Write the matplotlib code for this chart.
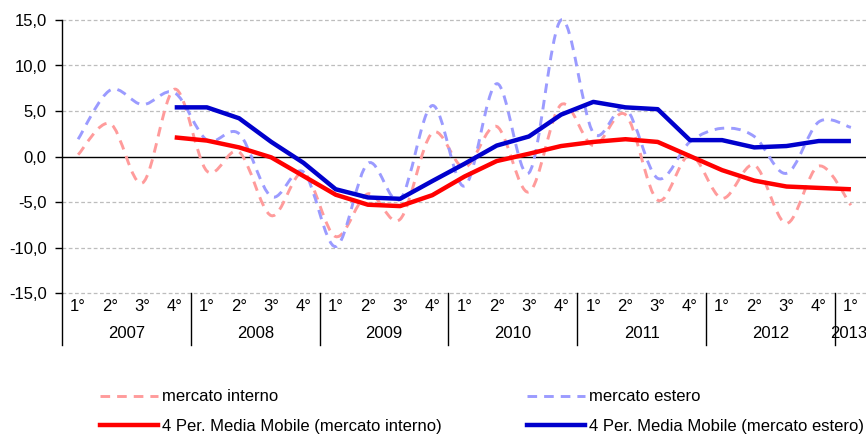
import numpy as np
import matplotlib
matplotlib.use("Agg")
import matplotlib.pyplot as plt
from matplotlib.path import Path
from matplotlib.patches import PathPatch
from matplotlib.lines import Line2D
from matplotlib.transforms import blended_transform_factory

plt.rcParams['font.family'] = ['Liberation Sans', 'DejaVu Sans']

# dati trimestrali 2007 1° - 2013 1°
anni = ['2007', '2008', '2009', '2010', '2011', '2012', '2013']
trimestri = ['1°', '2°', '3°', '4°'] * 6 + ['1°']

mercato_interno = [0.2, 3.6, -2.9, 7.4, -1.6, 0.5, -6.5, -1.8, -8.8, -4.1, -6.9, 2.6,
                   -1.2, 3.3, -3.9, 5.7, 1.2, 4.6, -4.8, 0.15, -4.6, -0.95, -7.35, -1.05, -5.35]
mercato_estero = [1.9, 7.3, 5.7, 7.0, 1.8, 2.5, -4.4, -1.7, -9.9, -0.75, -4.7, 5.6,
                  -3.25, 8.0, -1.8, 15.0, 2.6, 5.3, -2.4, 1.6, 3.1, 2.2, -1.85, 3.8, 3.2]
mm_interno = [np.nan, np.nan, np.nan, 2.1, 1.75, 1.0, -0.1, -2.15, -4.2, -5.3, -5.45, -4.25,
              -2.2, -0.5, 0.3, 1.15, 1.6, 1.9, 1.6, 0.05, -1.5, -2.65, -3.3, -3.45, -3.6]
mm_estero = [np.nan, np.nan, np.nan, 5.4, 5.4, 4.2, 1.6, -0.7, -3.6, -4.5, -4.65, -2.7,
             -0.8, 1.2, 2.2, 4.6, 6.0, 5.4, 5.2, 1.8, 1.8, 1.0, 1.15, 1.7, 1.7]

ROSA = '#FF9B9B'
AZZURRO = '#9B9BFF'
ROSSO = '#FF0000'
BLU = '#0000CC'


def curva_smussata(xs, ys):
    # linea smussata come in Excel (bezier tipo Catmull-Rom)
    pts = np.column_stack([xs, ys]).astype(float)
    n = len(pts)
    verts = [pts[0]]
    codes = [Path.MOVETO]
    for i in range(n - 1):
        p0 = pts[i - 1] if i > 0 else pts[i]
        p1 = pts[i]
        p2 = pts[i + 1]
        p3 = pts[i + 2] if i + 2 < n else pts[i + 1]
        verts += [p1 + (p2 - p0) / 6, p2 - (p3 - p1) / 6, p2]
        codes += [Path.CURVE4] * 3
    return Path(verts, codes)


fig = plt.figure(figsize=(8.66, 4.36), dpi=100)
ax = fig.add_axes([62 / 866, 1 - 293 / 436, 805 / 866, 273 / 436])

x = np.arange(len(trimestri))
tratteggio = (0, (3.3, 2.4))

ax.add_patch(PathPatch(curva_smussata(x, mercato_interno), fill=False, edgecolor=ROSA,
                       lw=2.1, linestyle=tratteggio, capstyle='butt', clip_on=False, zorder=3))
ax.add_patch(PathPatch(curva_smussata(x, mercato_estero), fill=False, edgecolor=AZZURRO,
                       lw=2.1, linestyle=tratteggio, capstyle='butt', clip_on=False, zorder=3))
ax.plot(x, mm_interno, color=ROSSO, lw=3.2, zorder=4, solid_capstyle='butt')
ax.plot(x, mm_estero, color=BLU, lw=3.2, zorder=5, solid_capstyle='butt')

ax.set_xlim(-0.5, len(trimestri) - 0.5)
ax.set_ylim(-15, 15)
yt = np.arange(-15, 16, 5)
ax.set_yticks(yt)
ax.set_yticklabels([f'{v:.1f}'.replace('.', ',') for v in yt], fontsize=12)
ax.tick_params(axis='y', length=5, width=1, pad=6, direction='out')
ax.set_xticks([])

for v in yt:
    if v != 0:
        ax.axhline(v, color='#BDBDBD', lw=0.9, ls=(0, (3, 2)), zorder=1, clip_on=False)
ax.axhline(0, color='black', lw=1.0, zorder=2)

for s in ['top', 'right', 'bottom']:
    ax.spines[s].set_visible(False)
ax.spines['left'].set_linewidth(1.0)

# asse delle categorie a due livelli
tr = blended_transform_factory(ax.transData, ax.transAxes)
for i, t in enumerate(trimestri):
    ax.text(i, -0.051, t, transform=tr, ha='center', va='center', fontsize=12)
for k, a in enumerate(anni):
    inizio = k * 4 - 0.5
    fine = min(inizio + 4, len(trimestri) - 0.5)
    xc = (inizio + fine) / 2 if k < len(anni) - 1 else fine - 0.58
    ax.text(xc, -0.147, a, transform=tr, ha='center', va='center', fontsize=12)
    ax.plot([inizio, inizio], [0, -0.19], transform=tr, color='black', lw=1.0, clip_on=False)

# legenda
h_int = Line2D([], [], color=ROSA, lw=2.1, ls=tratteggio, dash_capstyle='butt')
h_est = Line2D([], [], color=AZZURRO, lw=2.1, ls=tratteggio, dash_capstyle='butt')
h_mmi = Line2D([], [], color=ROSSO, lw=3.2)
h_mme = Line2D([], [], color=BLU, lw=3.2)
opz = dict(loc='center left', frameon=False, fontsize=12, handlelength=3.5,
           handletextpad=0.2, labelspacing=0.85, borderpad=0, borderaxespad=0)
fig.legend([h_int, h_mmi], ['mercato interno', '4 Per. Media Mobile (mercato interno)'],
           bbox_to_anchor=(100 / 866, 1 - 411.5 / 436), **opz)
fig.legend([h_est, h_mme], ['mercato estero', '4 Per. Media Mobile (mercato estero)'],
           bbox_to_anchor=(527 / 866, 1 - 411.5 / 436), **opz)

fig.savefig('out.png', dpi=100)
